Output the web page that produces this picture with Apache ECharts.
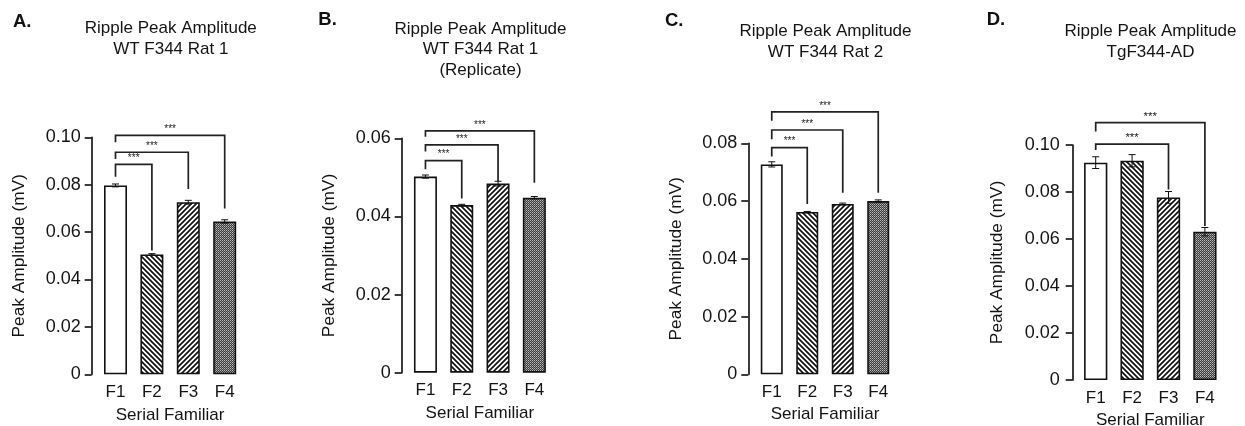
<!DOCTYPE html>
<html><head><meta charset="utf-8">
<script src="https://cdn.jsdelivr.net/npm/echarts@6/dist/echarts.min.js"></script>
<style>html,body{margin:0;padding:0;background:#fff}#c{width:1245px;height:426px}</style>
</head><body><div id="c"></div>
<script>
// ---------- DATA ----------
const categories = ['F1', 'F2', 'F3', 'F4'];
const panelLetters = ['A.', 'B.', 'C.', 'D.'];
const panelTitles = [
  'Ripple Peak Amplitude\nWT F344 Rat 1',
  'Ripple Peak Amplitude\nWT F344 Rat 1\n(Replicate)',
  'Ripple Peak Amplitude\nWT F344 Rat 2',
  'Ripple Peak Amplitude\nTgF344-AD'
];
const yAxisName = 'Peak Amplitude (mV)';
const xAxisName = 'Serial Familiar';

const meansA = [0.0797, 0.0506, 0.0726, 0.0645];
const errA   = [0.0006, 0.0003, 0.0008, 0.0007];
const meansB = [0.0502, 0.0429, 0.0484, 0.0448];
const errB   = [0.0004, 0.0002, 0.0006, 0.0003];
const meansC = [0.0727, 0.0562, 0.0590, 0.0600];
const errC   = [0.0009, 0.0002, 0.0003, 0.0004];
const meansD = [0.0925, 0.0933, 0.0777, 0.0631];
const errD   = [0.0025, 0.0026, 0.0025, 0.0018];

const yMaxA = 0.10, yMaxB = 0.06, yMaxC = 0.08, yMaxD = 0.10;
const yInterval = 0.02;
const tickLabelsA = ['0', '0.02', '0.04', '0.06', '0.08', '0.10'];
const tickLabelsB = ['0', '0.02', '0.04', '0.06'];
const tickLabelsC = ['0', '0.02', '0.04', '0.06', '0.08'];
const tickLabelsD = ['0', '0.02', '0.04', '0.06', '0.08', '0.10'];

// significance brackets: [fromIndex, toIndex, barHeight, leftEnd, rightEnd] (mV)
const bracketsA = [[0, 1, 0.0886, 0.0834, 0.0522], [0, 2, 0.0937, 0.0908, 0.0782], [0, 3, 0.1008, 0.0979, 0.0700]];
const bracketsB = [[0, 1, 0.0543, 0.0521, 0.0446], [0, 2, 0.0583, 0.0566, 0.0489], [0, 3, 0.0619, 0.0604, 0.0486]];
const bracketsC = [[0, 1, 0.0785, 0.0754, 0.0590], [0, 2, 0.0846, 0.0814, 0.0629], [0, 3, 0.0909, 0.0878, 0.0629]];
const bracketsD = [[0, 2, 0.1004, 0.0979, 0.0811], [0, 3, 0.1095, 0.1057, 0.0655]];
const sigLabel = '***';

// ---------- PATTERNS ----------
function hatch(dir) {
  const s = 5, c = document.createElement('canvas');
  c.width = s; c.height = s;
  const g = c.getContext('2d');
  g.fillStyle = '#fff'; g.fillRect(0, 0, s, s);
  g.strokeStyle = '#111'; g.lineWidth = 1.7;
  g.beginPath();
  if (dir === 'back') {
    g.moveTo(-1, -1); g.lineTo(s + 1, s + 1);
    g.moveTo(-s - 1, -1); g.lineTo(1, s + 1);
    g.moveTo(-1, -s - 1); g.lineTo(s + 1, 1);
  } else {
    g.moveTo(-1, s + 1); g.lineTo(s + 1, -1);
    g.moveTo(-1, 1); g.lineTo(1, -1);
    g.moveTo(s - 1, s + 1); g.lineTo(s + 1, s - 1);
  }
  g.stroke();
  return c;
}
function dots() {
  const c = document.createElement('canvas');
  c.width = 2; c.height = 2;
  const g = c.getContext('2d');
  g.fillStyle = '#3a3a3a'; g.fillRect(0, 0, 2, 2);
  g.fillStyle = '#bdbdbd'; g.fillRect(0, 0, 1, 1);
  g.fillStyle = '#8a8a8a'; g.fillRect(1, 1, 1, 1);
  return c;
}
const fills = [
  '#ffffff',
  { image: hatch('back'), repeat: 'repeat' },
  { image: hatch('fwd'), repeat: 'repeat' },
  { image: dots(), repeat: 'repeat' }
];

// ---------- LAYOUT ----------
const FONT = '"Liberation Sans", Arial, Helvetica, sans-serif';
const TXT = '#141414';
const panels = [
  { means: meansA, err: errA, max: yMaxA, ticks: tickLabelsA, br: bracketsA,
    grid: { left: 97.3, width: 145.6, top: 137.3, height: 237 }, off: 5.6, bw: 23, lm: 11, yng: 64, xng: 32.2,
    title: [170.8, 39.0], letter: [13, 21.7] },
  { means: meansB, err: errB, max: yMaxB, ticks: tickLabelsB, br: bracketsB,
    grid: { left: 407.3, width: 145.2, top: 138.3, height: 234.4 }, off: 5.6, bw: 23, lm: 11, yng: 64, xng: 32.1,
    title: [480.5, 49.7], letter: [318.3, 20] },
  { means: meansC, err: errC, max: yMaxC, ticks: tickLabelsC, br: bracketsC,
    grid: { left: 754, width: 142, top: 143.3, height: 231 }, off: 5.7, bw: 22, lm: 11, yng: 64, xng: 30,
    title: [825.5, 42], letter: [665, 21.2] },
  { means: meansD, err: errD, max: yMaxD, ticks: tickLabelsD, br: bracketsD,
    grid: { left: 1077.5, width: 145.6, top: 145, height: 235 }, off: 4.8, bw: 23.3, lm: 13, yng: 66.5, xng: 28.3,
    title: [1150.5, 42], letter: [986.7, 20] }
];

const grids = [], xAxes = [], yAxes = [], series = [], graphics = [];
panels.forEach((p, k) => {
  grids.push(Object.assign({ outerBoundsMode: 'none', containLabel: false }, p.grid));
  xAxes.push({
    type: 'category', gridIndex: k, data: categories, boundaryGap: true,
    axisLine: { show: false }, axisTick: { show: false },
    axisLabel: { color: TXT, fontSize: 17, fontFamily: FONT, margin: 9.5 },
    name: xAxisName, nameLocation: 'middle', nameGap: p.xng,
    nameTextStyle: { color: TXT, fontSize: 17, fontFamily: FONT }
  });
  yAxes.push({
    type: 'value', gridIndex: k, min: 0, max: p.max, interval: yInterval, offset: p.off,
    splitLine: { show: false },
    axisLine: { show: true, lineStyle: { color: '#1a1a1a', width: 1.7 } },
    axisTick: { show: true, length: 7, lineStyle: { color: '#1a1a1a', width: 1.7 } },
    axisLabel: { color: TXT, fontSize: 18, fontFamily: FONT, margin: p.lm,
      formatter: v => p.ticks[Math.round(v / yInterval)] },
    name: yAxisName, nameLocation: 'middle', nameGap: p.yng, nameRotate: 90,
    nameTextStyle: { color: TXT, fontSize: 17.3, fontFamily: FONT }
  });
  series.push({
    type: 'bar', xAxisIndex: k, yAxisIndex: k, barWidth: p.bw, silent: true, animation: false,
    data: p.means.map((v, i) => ({ value: v, itemStyle: { color: fills[i], borderColor: '#111', borderWidth: 1.6 } }))
  });
  series.push({
    type: 'custom', xAxisIndex: k, yAxisIndex: k, silent: true, animation: false, clip: false, z: 5,
    data: p.means.map((v, i) => [i, v, p.err[i]]),
    renderItem: (params, api) => {
      const i = api.value(0), v = api.value(1), e = api.value(2);
      const t = api.coord([i, v + e]), b = api.coord([i, v - e]);
      const hw = 3.5, st = { stroke: '#111', lineWidth: 1 };
      return { type: 'group', children: [
        { type: 'line', shape: { x1: t[0], y1: t[1], x2: b[0], y2: b[1] }, style: st },
        { type: 'line', shape: { x1: t[0] - hw, y1: t[1], x2: t[0] + hw, y2: t[1] }, style: st },
        { type: 'line', shape: { x1: b[0] - hw, y1: b[1], x2: b[0] + hw, y2: b[1] }, style: st }
      ] };
    }
  });
  series.push({
    type: 'custom', xAxisIndex: k, yAxisIndex: k, silent: true, animation: false, clip: false, z: 6,
    data: p.br,
    renderItem: (params, api) => {
      const i1 = api.value(0), i2 = api.value(1), yh = api.value(2), yl = api.value(3), yr = api.value(4);
      const a = api.coord([i1, yl]), b = api.coord([i1, yh]), c = api.coord([i2, yh]), d = api.coord([i2, yr]);
      return { type: 'group', children: [
        { type: 'polyline', shape: { points: [a, b, c, d] }, style: { stroke: '#222', lineWidth: 1.7, fill: null } },
        { type: 'text', x: (b[0] + c[0]) / 2, y: b[1] - 6,
          style: { text: sigLabel, fill: '#222', font: (k === 3 ? 11.5 : 10) + 'px ' + FONT,
                   align: 'center', verticalAlign: 'middle', textAlign: 'center', textVerticalAlign: 'middle' } }
      ] };
    }
  });
  graphics.push({
    type: 'text', x: p.title[0], y: p.title[1], silent: true,
    style: { text: panelTitles[k], fill: TXT, font: '17px ' + FONT, lineHeight: 20.7,
             align: 'center', verticalAlign: 'middle', textAlign: 'center', textVerticalAlign: 'middle' }
  });
  graphics.push({
    type: 'text', x: p.letter[0], y: p.letter[1], silent: true,
    style: { text: panelLetters[k], fill: '#111', font: 'bold 18.5px ' + FONT,
             align: 'left', verticalAlign: 'middle', textAlign: 'left', textVerticalAlign: 'middle' }
  });
});

const chart = echarts.init(document.getElementById('c'), null, { renderer: 'canvas' });
chart.setOption({
  backgroundColor: '#ffffff',
  animation: false,
  grid: grids, xAxis: xAxes, yAxis: yAxes, series: series, graphic: graphics
});
</script></body></html>
